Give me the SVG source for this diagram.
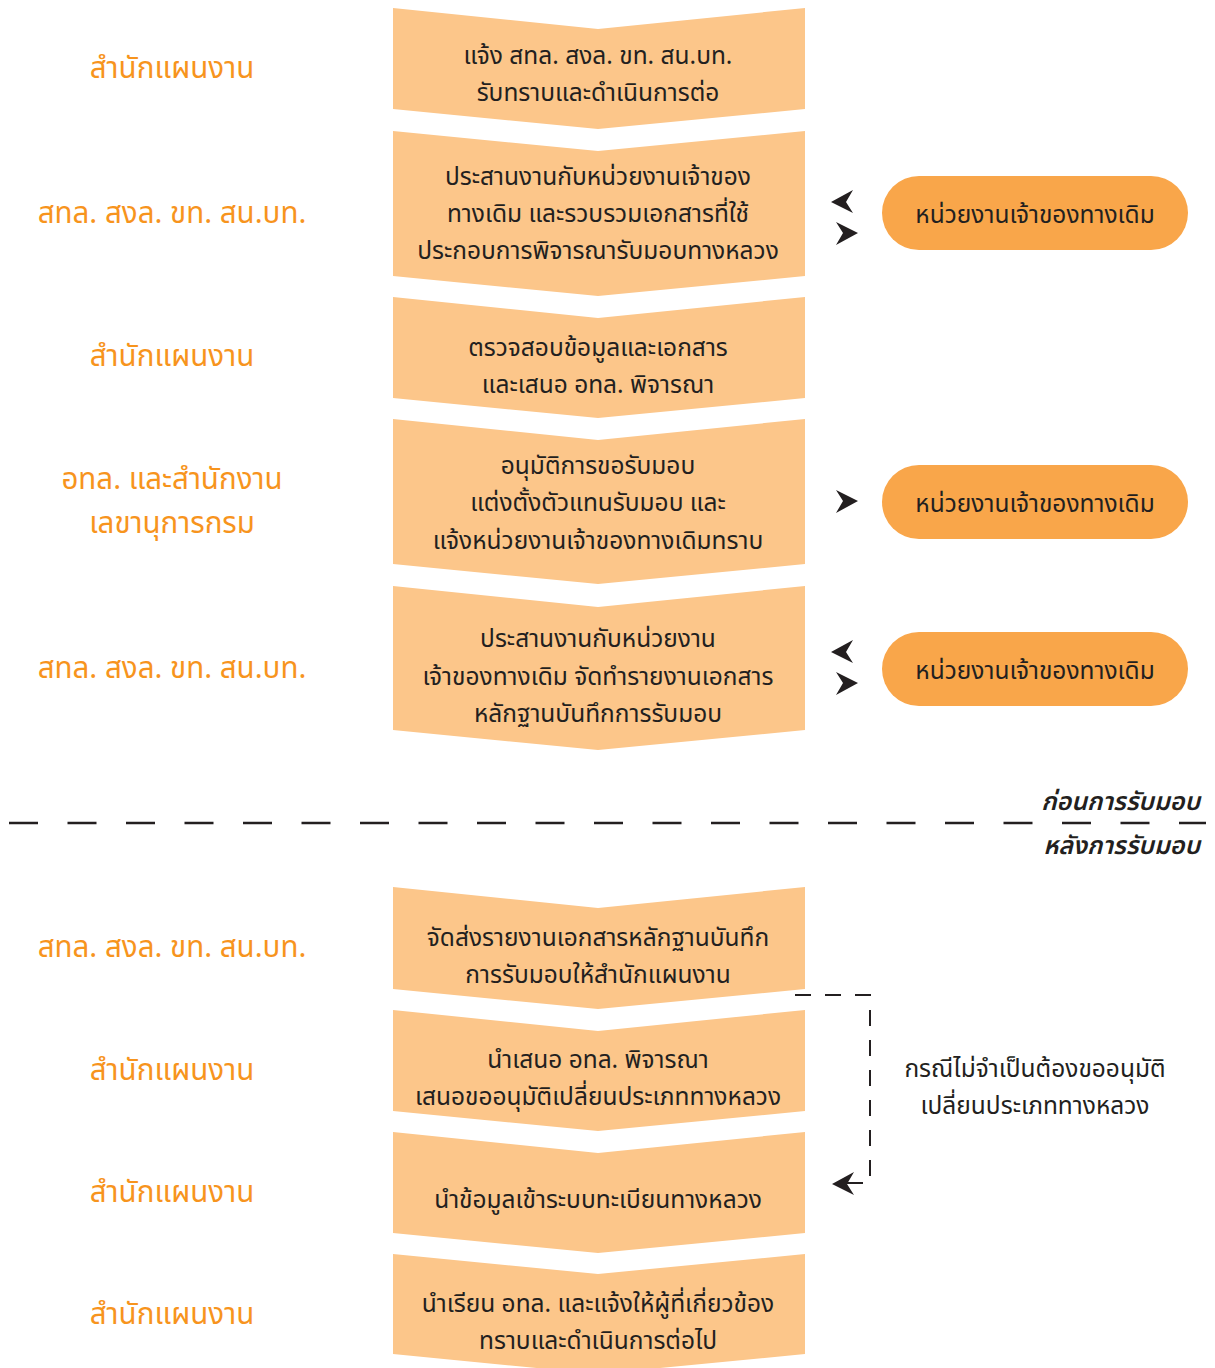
<svg xmlns="http://www.w3.org/2000/svg" xmlns:xlink="http://www.w3.org/1999/xlink" width="1215" height="1368" viewBox="0 0 1215 1368">
<style>
.chev{fill:#fcc68a}
.pill{fill:#f9a64a}
.t{font-family:"Noto Sans Thai","Noto Sans","Liberation Sans",sans-serif;font-size:24.5px;fill:#231f20;text-anchor:middle}
.lab{font-family:"Noto Sans Thai","Noto Sans","Liberation Sans",sans-serif;font-size:29.5px;fill:#f7941d;text-anchor:middle}
.side{font-family:"Noto Sans Thai","Noto Sans","Liberation Sans",sans-serif;font-size:25px;fill:#231f20;text-anchor:end;font-style:italic;font-weight:600}
.ah{fill:#231f20}
</style>
<defs>
<path id="arr" d="M0,0 L-22,-11 L-15,0 L-22,12 Z"/>
</defs>
<rect width="1215" height="1368" fill="#ffffff"/>

<g id="step1"><polygon class="chev" points="393,8 598,29 805,8 805,109 598,129 393,109"/>
<text class="t" x="598" y="64">แจ้ง สทล. สงล. ขท. สน.บท.</text><text class="t" x="598" y="101">รับทราบและดำเนินการต่อ</text></g>
<g id="label1"><text class="lab" x="172" y="78">สำนักแผนงาน</text></g>

<g id="step2"><polygon class="chev" points="393,131 598,151 805,131 805,276 598,296 393,276"/>
<text class="t" x="598" y="185">ประสานงานกับหน่วยงานเจ้าของ</text><text class="t" x="598" y="222">ทางเดิม และรวบรวมเอกสารที่ใช้</text><text class="t" x="598" y="259">ประกอบการพิจารณารับมอบทางหลวง</text></g>
<g id="label2"><text class="lab" x="172" y="223">สทล. สงล. ขท. สน.บท.</text></g>
<g id="owner1"><rect class="pill" x="882" y="176" width="306" height="74" rx="37"/><text class="t" x="1035" y="223">หน่วยงานเจ้าของทางเดิม</text></g>

<g id="step3"><polygon class="chev" points="393,297 598,318 805,297 805,398 598,418 393,398"/>
<text class="t" x="598" y="356">ตรวจสอบข้อมูลและเอกสาร</text><text class="t" x="598" y="393">และเสนอ อทล. พิจารณา</text></g>
<g id="label3"><text class="lab" x="172" y="366">สำนักแผนงาน</text></g>

<g id="step4"><polygon class="chev" points="393,419 598,440 805,419 805,564 598,584 393,564"/>
<text class="t" x="598" y="474">อนุมัติการขอรับมอบ</text><text class="t" x="598" y="511">แต่งตั้งตัวแทนรับมอบ และ</text><text class="t" x="598" y="549">แจ้งหน่วยงานเจ้าของทางเดิมทราบ</text></g>
<g id="label4"><text class="lab" x="172" y="489">อทล. และสำนักงาน</text><text class="lab" x="172" y="533">เลขานุการกรม</text></g>
<g id="owner2"><rect class="pill" x="882" y="465" width="306" height="74" rx="37"/><text class="t" x="1035" y="512">หน่วยงานเจ้าของทางเดิม</text></g>

<g id="step5"><polygon class="chev" points="393,586 598,607 805,586 805,730 598,750 393,730"/>
<text class="t" x="598" y="647">ประสานงานกับหน่วยงาน</text><text class="t" x="598" y="685">เจ้าของทางเดิม จัดทำรายงานเอกสาร</text><text class="t" x="598" y="722">หลักฐานบันทึกการรับมอบ</text></g>
<g id="label5"><text class="lab" x="172" y="678">สทล. สงล. ขท. สน.บท.</text></g>
<g id="owner3"><rect class="pill" x="882" y="632" width="306" height="74" rx="37"/><text class="t" x="1035" y="679">หน่วยงานเจ้าของทางเดิม</text></g>

<g id="divider">
<line x1="9" y1="823" x2="1206" y2="823" stroke="#231f20" stroke-width="2.6" stroke-dasharray="29,29.5"/>
<text class="side" x="1200" y="810">ก่อนการรับมอบ</text>
<text class="side" x="1200" y="854">หลังการรับมอบ</text>
</g>

<g id="step6"><polygon class="chev" points="393,887 598,908 805,887 805,989 598,1009 393,989"/>
<text class="t" x="598" y="946">จัดส่งรายงานเอกสารหลักฐานบันทึก</text><text class="t" x="598" y="983">การรับมอบให้สำนักแผนงาน</text></g>
<g id="label6"><text class="lab" x="172" y="957">สทล. สงล. ขท. สน.บท.</text></g>

<g id="step7"><polygon class="chev" points="393,1010 598,1031 805,1010 805,1111 598,1131 393,1111"/>
<text class="t" x="598" y="1068">นำเสนอ อทล. พิจารณา</text><text class="t" x="598" y="1105">เสนอขออนุมัติเปลี่ยนประเภททางหลวง</text></g>
<g id="label7"><text class="lab" x="172" y="1080">สำนักแผนงาน</text></g>

<g id="step8"><polygon class="chev" points="393,1132 598,1153 805,1132 805,1233 598,1253 393,1233"/>
<text class="t" x="598" y="1208">นำข้อมูลเข้าระบบทะเบียนทางหลวง</text></g>
<g id="label8"><text class="lab" x="172" y="1202">สำนักแผนงาน</text></g>

<g id="step9"><polygon class="chev" points="393,1254 598,1274 805,1254 805,1354 598,1374 393,1354"/>
<text class="t" x="598" y="1312">นำเรียน อทล. และแจ้งให้ผู้ที่เกี่ยวข้อง</text><text class="t" x="598" y="1349">ทราบและดำเนินการต่อไป</text></g>
<g id="label9"><text class="lab" x="172" y="1324">สำนักแผนงาน</text></g>

<g id="skipnote"><text class="t" x="1035" y="1077">กรณีไม่จำเป็นต้องขออนุมัติ</text><text class="t" x="1035" y="1114">เปลี่ยนประเภททางหลวง</text></g>

<g id="connectors">
<use xlink:href="#arr" class="ah" transform="translate(831,202) rotate(180)"/>
<use xlink:href="#arr" class="ah" transform="translate(858,233)"/>
<use xlink:href="#arr" class="ah" transform="translate(858,501)"/>
<use xlink:href="#arr" class="ah" transform="translate(831,652) rotate(180)"/>
<use xlink:href="#arr" class="ah" transform="translate(858,683)"/>
<path d="M795,995 H870 V1183 H846" fill="none" stroke="#231f20" stroke-width="2" stroke-dasharray="16,14"/>
<use xlink:href="#arr" class="ah" transform="translate(832,1184) rotate(180)"/>
</g>
</svg>
